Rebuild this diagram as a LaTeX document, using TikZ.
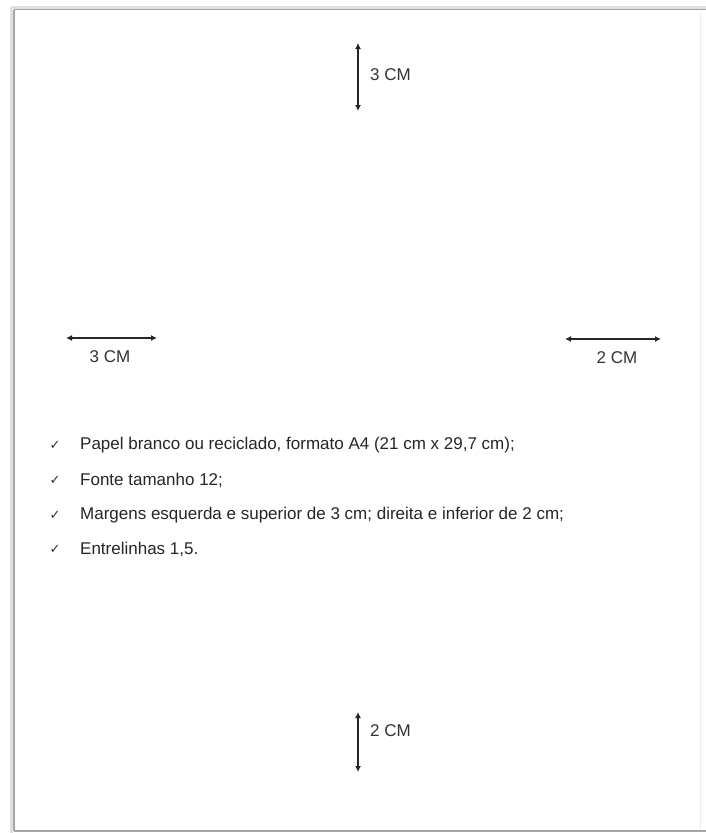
\documentclass[tikz,border=0pt]{standalone}
\usepackage{fontspec}
\setmainfont{Liberation Sans}
\newfontfamily\symfont{DejaVu Sans}
\usetikzlibrary{arrows.meta}
\begin{document}
\begin{tikzpicture}[x=1pt,y=-1pt,
  dim/.style={line width=1.3pt,draw=black!85,{Latex[length=6pt,width=6pt]}-{Latex[length=6pt,width=6pt]}},
  lbl/.style={font=\fontsize{17}{20}\selectfont,inner sep=0pt,text=black!80},
  item/.style={font=\fontsize{17}{20}\selectfont,inner sep=0pt,anchor=west,text=black!85},
  chk/.style={font=\symfont\fontsize{13}{15}\selectfont,inner sep=0pt,text=black!80}]
\useasboundingbox (0,0) rectangle (706,833);
\fill[white] (0,0) rectangle (706,833);
\draw[gray!25,line width=3pt] (11,7) -- (710,7);
\draw[gray!25,line width=3pt] (11,7) -- (11,836);
\draw[gray!70,line width=1.6pt] (14,9.5) -- (710,9.5);
\draw[gray!70,line width=1.6pt] (14,9.5) -- (14,831);
\draw[gray!70,line width=1.6pt] (14,831) -- (710,831);
\draw[gray!15,line width=1pt] (700,12) -- (700,829);
% top
\coordinate (t1) at (358,43);
\coordinate (t2) at (358,111);
\draw[dim] (t1) -- (t2);
\node[lbl,anchor=west] (tl) at (370,75) {3 CM};
% left
\coordinate (l1) at (66,338);
\coordinate (l2) at (157,338);
\draw[dim] (l1) -- (l2);
\node[lbl] (ll) at (110,357) {3 CM};
% right
\coordinate (r1) at (565,339);
\coordinate (r2) at (661,339);
\draw[dim] (r1) -- (r2);
\node[lbl] (rl) at (617,358) {2 CM};
% bottom
\coordinate (b1) at (358,712);
\coordinate (b2) at (358,772);
\draw[dim] (b1) -- (b2);
\node[lbl,anchor=west] (bl) at (370,731) {2 CM};
% list
\node[chk] (c1) at (55,445) {✓};
\node[item] (i1) at (80,445) {Papel branco ou reciclado, formato A4 (21 cm x 29,7 cm);};
\node[chk] (c2) at (55,480) {✓};
\node[item] (i2) at (80,480) {Fonte tamanho 12;};
\node[chk] (c3) at (55,515) {✓};
\node[item] (i3) at (80,515) {Margens esquerda e superior de 3 cm; direita e inferior de 2 cm;};
\node[chk] (c4) at (55,549) {✓};
\node[item] (i4) at (80,549) {Entrelinhas 1,5.};
\end{tikzpicture}
\end{document}
